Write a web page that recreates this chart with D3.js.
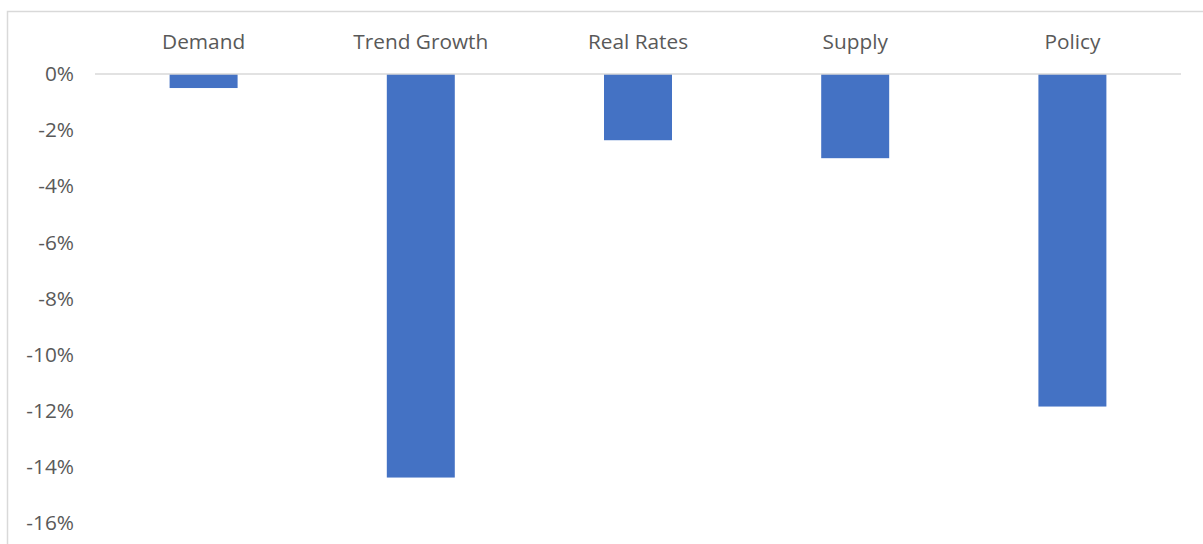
<!DOCTYPE html>
<html>
<head>
<meta charset="utf-8">
<script src="https://cdn.jsdelivr.net/npm/d3@7"></script>
<style>
  html, body { margin: 0; padding: 0; background: #fff; }
  svg { display: block; }
</style>
</head>
<body>
<svg id="chart" width="1203" height="544"></svg>
<script>
// Contribution by factor, in percent
const categories = ["Demand", "Trend Growth", "Real Rates", "Supply", "Policy"];
const values = [-0.5, -14.38, -2.36, -3.0, -11.85];
const yTicks = [0, -2, -4, -6, -8, -10, -12, -14, -16];

const svg = d3.select("#chart");
const W = 1203, H = 544;
const textColor = "#595959";
const lineColor = "#d9d9d9";
const barColor = "#4472C4";
const fontFamily = "'Open Sans', 'Noto Sans', sans-serif";
const fontSize = 20.8;

// chart area frame (extends past the right/bottom edge)
svg.append("rect")
  .attr("x", 7.5).attr("y", 11.5)
  .attr("width", W + 20).attr("height", H + 20)
  .attr("fill", "#fff")
  .attr("stroke", lineColor).attr("stroke-width", 1.5);

const plotLeft = 95, plotRight = 1181;
const x = d3.scaleBand()
  .domain(categories)
  .range([plotLeft, plotRight])
  .paddingInner(0.687)
  .paddingOuter(0.3435);

const y = d3.scaleLinear()
  .domain([-16, 0])
  .range([523, 74]);

// bars
svg.append("g")
  .selectAll("rect")
  .data(categories.map((c, i) => ({ c, v: values[i] })))
  .join("rect")
  .attr("x", d => x(d.c))
  .attr("width", x.bandwidth())
  .attr("y", d => y(Math.max(0, d.v)))
  .attr("height", d => Math.abs(y(d.v) - y(0)))
  .attr("fill", barColor);

// zero line
svg.append("line")
  .attr("x1", plotLeft).attr("x2", plotRight)
  .attr("y1", y(0)).attr("y2", y(0))
  .attr("stroke", lineColor).attr("stroke-width", 1.5);

// value axis
const yAxis = d3.axisLeft(y)
  .tickValues(yTicks)
  .tickSize(0)
  .tickPadding(0)
  .tickFormat(d => (d < 0 ? "-" + Math.abs(d) : d) + "%");

const gy = svg.append("g")
  .attr("transform", "translate(74,0)")
  .call(yAxis);
gy.select(".domain").remove();
gy.selectAll("text")
  .attr("fill", textColor)
  .style("font-family", fontFamily)
  .style("font-size", fontSize + "px");

// category labels along the top
const xAxis = d3.axisTop(x).tickSize(0).tickPadding(0);
const gx = svg.append("g")
  .attr("transform", "translate(0,42)")
  .call(xAxis);
gx.select(".domain").remove();
gx.selectAll("text")
  .attr("fill", textColor)
  .attr("dy", "0.35em")
  .style("font-family", fontFamily)
  .style("font-size", fontSize + "px");
</script>
</body>
</html>
